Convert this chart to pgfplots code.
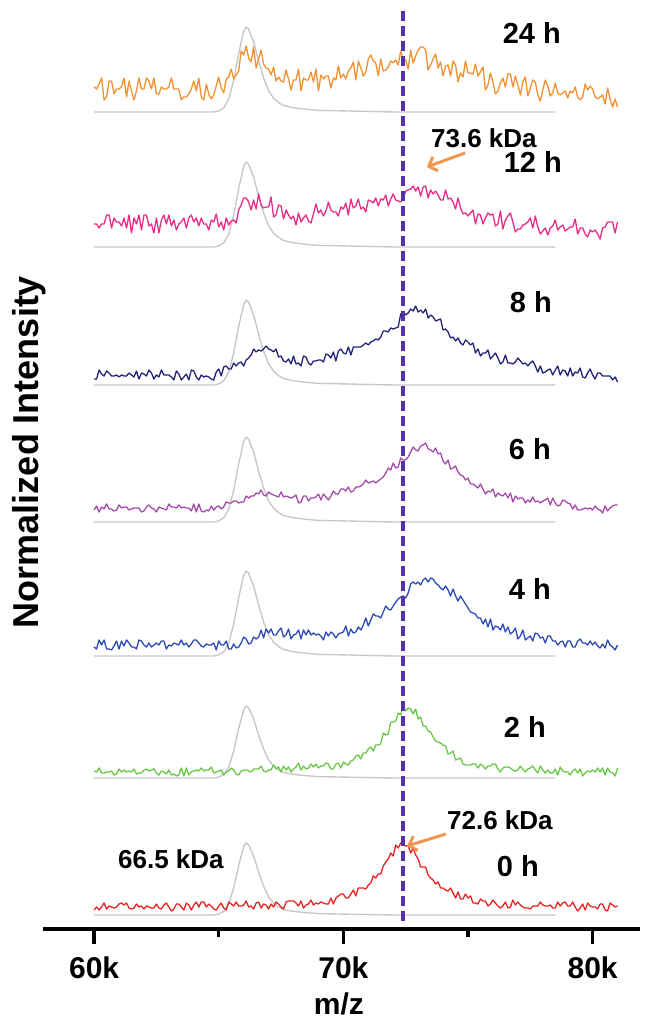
\documentclass[border=0pt]{standalone}
\usepackage{fontspec}
\setmainfont{Liberation Sans}
\usepackage{pgfplots}
\usepackage{pgfplotstable}
\pgfplotsset{compat=1.18}
\usetikzlibrary{arrows.meta}

\definecolor{c0}{RGB}{232,35,35}
\definecolor{c2}{RGB}{105,200,70}
\definecolor{c4}{RGB}{45,75,180}
\definecolor{c6}{RGB}{165,75,170}
\definecolor{c8}{RGB}{35,35,120}
\definecolor{c12}{RGB}{230,45,135}
\definecolor{c24}{RGB}{242,145,50}
\definecolor{cg}{RGB}{200,200,200}
\definecolor{cdash}{RGB}{85,50,170}
\definecolor{carrow}{RGB}{240,150,80}

% m/z (k) and stacked intensities (offset per time point)
\pgfplotstableread{
x t0 t2 t4 t6 t8 t12 t24
60.0 19 158 282 419 550 705 842
60.1 22 157 280 423 550 705 840
60.2 19 161 289 417 559 701 845
60.3 22 156 284 422 555 705 851
60.4 26 156 289 420 553 705 829
60.5 20 157 280 425 558 714 832
60.6 23 157 280 420 556 714 848
60.7 22 158 279 420 553 701 848
60.8 21 154 283 418 553 711 835
60.9 22 155 288 419 554 707 840
61.0 25 160 280 424 552 707 840
61.1 26 157 288 421 554 703 842
61.2 24 159 283 422 553 711 851
61.3 26 157 289 422 553 701 832
61.4 21 158 286 419 556 714 848
61.5 20 157 282 420 554 696 838
61.6 21 160 282 421 552 711 829
61.7 25 155 280 421 558 705 838
61.8 22 156 289 421 550 714 851
61.9 23 156 288 417 556 699 840
62.0 20 159 284 418 555 714 840
62.1 23 160 282 422 553 714 851
62.2 22 158 286 424 559 703 848
62.3 21 159 282 421 556 705 840
62.4 21 160 284 420 550 696 851
62.5 25 156 286 417 554 711 835
62.6 21 154 284 422 552 696 835
62.7 20 158 288 421 559 709 842
62.8 24 157 288 420 554 714 840
62.9 26 155 280 419 554 705 840
63.0 22 159 284 425 554 714 842
63.1 18 154 283 422 552 703 851
63.2 20 155 286 422 549 709 840
63.3 25 153 285 421 558 699 840
63.4 25 154 284 424 555 705 840
63.5 22 161 289 421 549 707 829
63.6 19 153 284 422 552 711 832
63.7 26 161 286 421 555 701 832
63.8 24 154 282 421 549 711 835
63.9 19 157 285 418 559 714 840
64.0 24 158 289 425 558 707 848
64.1 27 159 289 417 552 711 838
64.2 22 158 286 425 549 703 851
64.3 27 161 283 418 554 711 832
64.4 27 158 282 417 552 705 829
64.5 22 159 285 419 553 705 845
64.6 25 159 284 418 552 699 835
64.7 23 162 284 423 550 709 830
64.8 20 156 286 419 549 707 834
64.9 19 157 279 422 557 715 843
65.0 23 158 288 423 560 702 852
65.1 26 159 284 420 553 707 841
65.2 21 154 284 422 562 699 836
65.3 19 157 288 427 563 711 850
65.4 27 158 280 426 560 704 852
65.5 25 161 280 426 560 708 860
65.6 23 159 285 428 566 709 850
65.7 27 155 281 428 563 706 854
65.8 23 154 282 426 566 719 858
65.9 23 158 286 427 567 724 878
66.0 24 159 292 427 563 731 874
66.1 28 159 290 433 569 731 883
66.2 22 158 285 431 571 727 871
66.3 23 157 286 433 574 719 867
66.4 20 160 292 433 580 729 882
66.5 26 160 290 436 577 720 861
66.6 27 160 292 435 579 735 870
66.7 21 163 299 439 578 724 879
66.8 25 158 291 434 580 721 865
66.9 24 157 300 433 583 722 861
67.0 20 159 296 437 580 722 860
67.1 25 159 300 435 579 732 854
67.2 22 164 294 434 577 712 862
67.3 27 160 294 433 580 714 848
67.4 25 162 298 432 572 724 852
67.5 22 157 301 437 573 723 848
67.6 20 163 292 432 568 710 847
67.7 27 159 294 433 567 719 859
67.8 28 162 300 432 570 714 850
67.9 28 157 290 431 565 710 839
68.0 28 160 294 432 573 713 849
68.1 26 162 295 434 565 704 849
68.2 23 166 299 426 566 716 860
68.3 28 159 290 427 563 707 838
68.4 21 163 299 433 573 711 851
68.5 24 160 294 433 572 714 849
68.6 25 161 299 428 566 708 849
68.7 29 165 294 431 564 706 857
68.8 24 162 296 431 568 715 847
68.9 26 165 294 432 568 725 860
69.0 25 161 295 435 569 716 838
69.1 27 163 293 429 569 719 854
69.2 26 163 289 435 567 713 850
69.3 25 166 297 432 575 718 853
69.4 25 165 293 429 574 727 853
69.5 31 160 297 433 571 719 841
69.6 25 160 295 438 577 717 851
69.7 31 165 291 435 568 717 849
69.8 33 166 295 435 578 713 863
69.9 35 161 296 440 580 722 851
70.0 35 167 297 440 576 720 855
70.1 31 165 303 438 575 726 850
70.2 31 164 293 442 582 714 858
70.3 35 168 300 437 574 730 861
70.4 39 169 296 438 582 721 867
70.5 33 173 297 442 582 723 849
70.6 41 174 302 442 582 730 868
70.7 41 170 299 443 582 720 861
70.8 41 176 304 445 584 722 853
70.9 40 176 311 449 586 717 857
71.0 44 180 303 446 584 729 870
71.1 46 182 309 447 587 728 874
71.2 53 178 315 448 588 726 868
71.3 51 184 313 446 590 731 866
71.4 55 184 313 448 589 723 853
71.5 55 185 311 450 592 730 870
71.6 63 196 317 452 598 729 858
71.7 67 194 323 456 598 734 859
71.8 70 195 320 461 597 723 862
71.9 76 207 319 459 601 730 868
72.0 73 207 323 466 600 735 866
72.1 84 208 327 461 601 729 869
72.2 81 216 330 462 602 728 864
72.3 86 214 332 471 615 727 878
72.4 84 223 333 469 617 731 870
72.5 83 218 331 469 614 738 869
72.6 83 221 336 472 616 739 860
72.7 76 220 345 477 620 740 879
72.8 81 215 347 482 618 743 866
72.9 74 220 345 479 623 738 873
73.0 70 210 347 478 617 742 879
73.1 62 212 344 483 619 733 882
73.2 62 203 349 484 616 742 882
73.3 62 203 351 486 620 743 879
73.4 54 198 347 480 611 731 859
73.5 51 197 351 479 614 739 864
73.6 49 192 350 477 612 735 870
73.7 45 188 346 481 608 738 875
73.8 47 187 344 475 609 734 861
73.9 41 186 341 476 610 729 867
74.0 41 184 339 468 599 729 853
74.1 39 183 343 465 600 739 863
74.2 38 175 339 469 597 730 864
74.3 41 176 333 460 591 731 853
74.4 36 178 340 461 592 727 868
74.5 31 169 333 463 588 720 864
74.6 37 170 328 457 591 731 847
74.7 30 171 333 454 586 721 856
74.8 30 165 329 453 584 715 852
74.9 35 164 325 449 589 716 868
75.0 31 164 321 451 587 713 856
75.1 33 164 317 445 584 716 856
75.2 26 165 316 445 586 719 855
75.3 26 165 315 443 576 705 865
75.4 25 161 311 441 580 715 853
75.5 30 165 311 445 573 714 857
75.6 28 163 305 440 576 705 862
75.7 28 160 310 435 576 711 839
75.8 23 163 302 438 579 716 844
75.9 25 163 310 437 570 714 856
76.0 29 165 299 440 573 715 847
76.1 26 165 303 432 576 703 835
76.2 23 160 302 436 571 705 838
76.3 21 157 299 434 565 718 846
76.4 23 161 305 433 567 700 851
76.5 27 162 297 436 574 709 842
76.6 21 162 302 431 566 713 855
76.7 22 161 295 436 566 716 855
76.8 29 159 297 427 565 707 842
76.9 24 158 301 433 567 697 853
77.0 27 159 290 430 571 700 844
77.1 24 163 293 431 568 700 834
77.2 22 160 299 431 565 704 847
77.3 21 157 289 426 566 705 852
77.4 21 160 291 429 563 707 833
77.5 20 161 293 427 566 711 841
77.6 23 163 288 432 568 701 849
77.7 23 159 296 427 563 713 847
77.8 23 156 295 428 557 702 834
77.9 27 163 291 426 563 695 828
78.0 24 159 292 428 556 698 839
78.1 23 156 286 429 557 701 849
78.2 23 159 293 431 559 694 843
78.3 24 156 293 424 560 701 833
78.4 21 156 288 431 554 703 836
78.5 21 160 288 426 559 709 846
78.6 27 154 284 423 563 699 836
78.7 23 162 287 424 554 702 834
78.8 26 158 288 429 559 704 836
78.9 27 157 282 428 558 698 838
79.0 23 157 288 426 553 700 831
79.1 23 154 288 425 561 702 838
79.2 27 158 282 420 553 702 836
79.3 22 160 282 424 557 710 842
79.4 18 156 288 419 556 695 832
79.5 21 160 290 419 561 701 829
79.6 25 153 286 420 552 701 832
79.7 19 156 286 421 551 695 845
79.8 26 158 284 420 556 692 839
79.9 23 157 288 421 560 699 843
80.0 22 159 284 419 554 697 840
80.1 22 157 287 423 550 699 832
80.2 20 161 283 420 556 695 830
80.3 25 157 281 419 556 690 832
80.4 25 161 285 416 553 701 834
80.5 19 154 281 423 553 702 825
80.6 18 161 289 418 553 707 841
80.7 26 157 284 421 553 707 830
80.8 24 156 282 423 549 707 822
80.9 22 153 279 424 552 696 830
81.0 23 161 284 424 547 707 822
}\spectra

% reference (gray) spectra, same offsets
\pgfplotstableread{
x g0 g2 g4 g6 g8 g12 g24
60.0 14 151 273 407 544 682 817
64.8 14 151 273 407 544 682 817
65.0 15 152 274.1 408.1 545.1 683.1 818.1
65.2 17.6 154.6 277.2 411.2 548.2 686.2 821.2
65.4 24.8 161.8 285.7 419.7 556.7 694.7 829.7
65.6 41 178 304.8 438.8 575.8 713.8 848.8
65.8 63.5 200.5 331.3 465.3 602.3 740.3 875.3
66.0 82.4 219.4 353.6 487.6 624.6 762.6 897.6
66.1 86 223 357.8 491.8 628.8 766.8 901.8
66.2 84 221 355.7 489.7 626.7 764.7 899.7
66.4 73 210 343 477 614 752 887
66.6 57 194 323.9 457.9 594.9 732.9 867.9
66.8 43 180 306.9 440.9 577.9 715.9 850.9
67.0 32 169 294.2 428.2 565.2 703.2 838.2
67.2 26 163 286.8 420.8 557.8 695.8 830.8
67.4 22 159 282.5 416.5 553.5 691.5 826.5
67.6 19.4 156.4 279.4 413.4 550.4 688.4 823.4
68.0 17.6 154.6 277.2 411.2 548.2 686.2 821.2
68.5 16.3 153.3 275.7 409.7 546.7 684.7 819.7
69.0 15.4 152.4 274.6 408.6 545.6 683.6 818.6
70.0 14.9 151.9 274.1 408.1 545.1 683.1 818.1
72.0 14 151 273 407 544 682 817
78.5 14 151 273 407 544 682 817
}\reference

\begin{document}
\begin{tikzpicture}
\begin{axis}[
  name=ax,
  scale only axis,
  width=597bp, height=929bp,
  xmin=57.95, xmax=81.9,
  ymin=0, ymax=929,
  clip=false,
  axis x line=bottom,
  axis y line=none,
  x axis line style={-, line width=3.5bp, black},
  xtick={60,70,80},
  xticklabels={60k,70k,80k},
  minor xtick={65,75},
  xtick align=outside,
  major tick length=15bp,
  minor tick length=8bp,
  every tick/.style={black, line width=3.5bp},
  xticklabel style={font=\fontsize{30bp}{30bp}\selectfont\bfseries, anchor=center, yshift=-24bp},
]
% gray reference spectra
\foreach \g in {g0,g2,g4,g6,g8,g12,g24}{
  \addplot[cg, line width=1.4bp] table[x=x, y=\g] {\reference};
}
\addplot[c0,  line width=1.3bp, line join=round] table[x=x, y=t0]  {\spectra};
\addplot[c2,  line width=1.3bp, line join=round] table[x=x, y=t2]  {\spectra};
\addplot[c4,  line width=1.3bp, line join=round] table[x=x, y=t4]  {\spectra};
\addplot[c6,  line width=1.3bp, line join=round] table[x=x, y=t6]  {\spectra};
\addplot[c8,  line width=1.3bp, line join=round] table[x=x, y=t8]  {\spectra};
\addplot[c12, line width=1.3bp, line join=round] table[x=x, y=t12] {\spectra};
\addplot[c24, line width=1.3bp, line join=round] table[x=x, y=t24] {\spectra};

\draw[cdash, line width=3.5bp, dash pattern=on 10bp off 5bp] (axis cs:72.39,8) -- (axis cs:72.39,921);

\draw[carrow, line width=3bp, -{Straight Barb[length=7bp,width=15bp]}] (axis cs:74.88,776) -- (axis cs:73.35,762);
\draw[carrow, line width=3bp, -{Straight Barb[length=7bp,width=15bp]}] (axis cs:74.11,95) -- (axis cs:72.55,83);

\begin{scope}[every node/.style={font=\fontsize{29bp}{29bp}\selectfont\bfseries, anchor=center, inner sep=0pt}]
\node at (axis cs:77.56,896) {24 h};
\node at (axis cs:77.60,767) {12 h};
\node at (axis cs:77.52,627) {8 h};
\node at (axis cs:77.48,480) {6 h};
\node at (axis cs:77.48,340) {4 h};
\node at (axis cs:77.28,202) {2 h};
\node at (axis cs:77.00,63) {0 h};
\end{scope}
\begin{scope}[every node/.style={font=\fontsize{26bp}{26bp}\selectfont\bfseries, anchor=center, inner sep=0pt}]
\node at (axis cs:75.64,791) {73.6 kDa};
\node at (axis cs:76.28,109) {72.6 kDa};
\node at (axis cs:63.08,70) {66.5 kDa};
\end{scope}
\node[font=\fontsize{30bp}{30bp}\selectfont\bfseries, inner sep=0pt] at (axis cs:69.82,-75) {m/z};
\node[font=\fontsize{36bp}{36bp}\selectfont\bfseries, inner sep=0pt, rotate=90] at (axis cs:57.39,477) {Normalized Intensity};
\end{axis}
\pgfresetboundingbox
\path (ax.south west) ++(-43bp,-96bp) rectangle ++(646bp,1025bp);
\end{tikzpicture}
\end{document}
